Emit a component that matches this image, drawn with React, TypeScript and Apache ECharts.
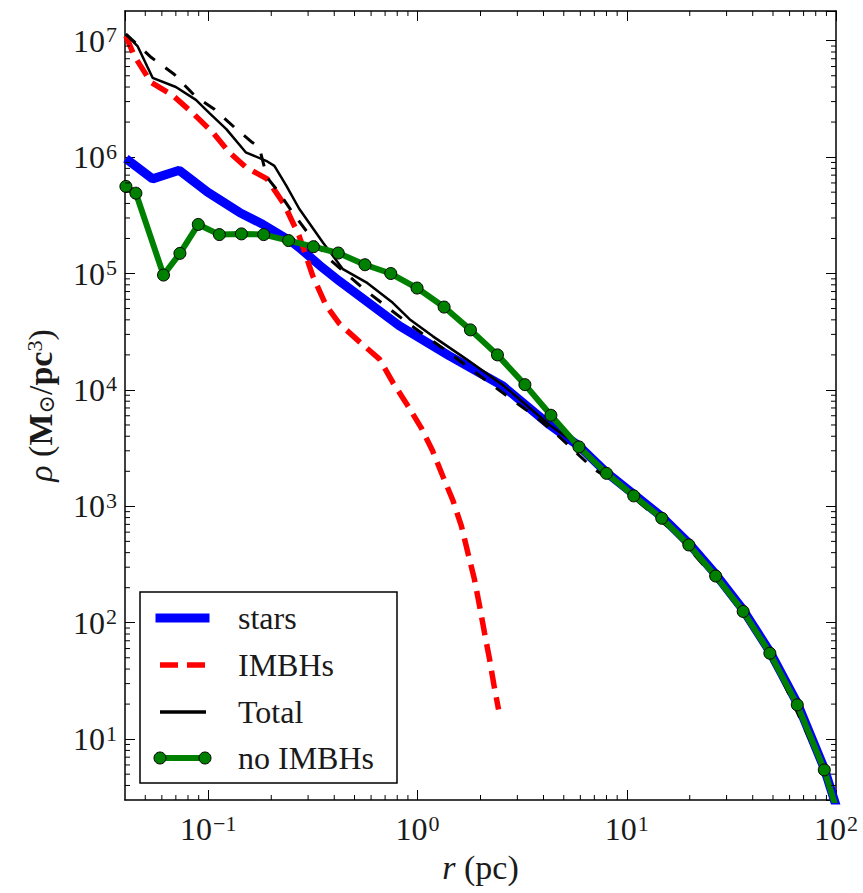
import React, { useEffect, useRef } from 'react';
import * as echarts from 'echarts';

const FONT = 'Liberation Serif, DejaVu Serif, serif';

// stars
const starsR = [0.0404, 0.0542, 0.0727, 0.0993, 0.141, 0.182, 0.253, 0.272, 0.34, 0.424, 0.82, 1.42, 2.56, 4.28, 5.91, 8.0, 10.8, 14.7, 19.8, 26.6, 36.0, 48.3, 65.3, 87.9, 118];
const starsRho = [9.7e5, 6.5e5, 7.7e5, 5.0e5, 3.35e5, 2.65e5, 1.85e5, 1.67e5, 1.18e5, 8.6e4, 3.55e4, 1.96e4, 1.08e4, 5.0e3, 3.3e3, 1.95e3, 1.27e3, 815, 482, 261, 129, 56.5, 20.4, 5.6, 1.05];

// IMBHs
const imbhR = [0.0404, 0.0443, 0.0532, 0.0675, 0.0841, 0.105, 0.126, 0.151, 0.191, 0.231, 0.272, 0.316, 0.366, 0.424, 0.527, 0.658, 0.762, 0.883, 1.04, 1.18, 1.32, 1.48, 1.62, 1.74, 1.87, 1.98, 2.09, 2.21, 2.33, 2.44];
const imbhRho = [1.1e7, 7.4e6, 4.4e6, 3.4e6, 2.4e6, 1.63e6, 1.1e6, 8.2e5, 6.5e5, 3.9e5, 2.1e5, 9.5e4, 5.3e4, 3.7e4, 2.6e4, 1.84e4, 1.16e4, 7.7e3, 4.75e3, 3.0e3, 1.82e3, 1.11e3, 680, 400, 237, 139, 82, 48.5, 27.7, 18];

// Total
const totalR = [0.0404, 0.0459, 0.0542, 0.070, 0.0873, 0.101, 0.122, 0.151, 0.189, 0.207, 0.236, 0.272, 0.353, 0.440, 0.569, 0.762, 0.916, 1.18, 1.71, 2.56, 4.28, 5.91, 8.0, 10.8, 14.7, 19.8, 26.6, 36.0, 48.3, 65.3, 87.9, 118];
const totalRho = [1.14e7, 9.0e6, 4.8e6, 4.0e6, 3.1e6, 2.4e6, 1.74e6, 1.1e6, 9.3e5, 8.4e5, 5.7e5, 3.6e5, 1.85e5, 1.09e5, 8.4e4, 5.6e4, 4.05e4, 2.9e4, 1.84e4, 1.1e4, 5.0e3, 3.3e3, 1.95e3, 1.27e3, 815, 482, 261, 129, 56.5, 20.4, 5.6, 1.05];

// second (dashed black) total profile
const dashR = [0.0404, 0.0533, 0.0687, 0.0867, 0.107, 0.133, 0.162, 0.175, 0.191, 0.219, 0.252, 0.315, 0.379, 0.557, 0.916, 1.45, 2.29, 3.70, 4.53, 6.90, 9.27, 17.3, 30.0, 43.3, 56.0, 88.0, 120];
const dashRho = [1.14e7, 7.2e6, 5.15e6, 3.33e6, 2.58e6, 1.81e6, 1.34e6, 1.22e6, 6.7e5, 4.9e5, 3.37e5, 1.97e5, 1.33e5, 7.3e4, 3.66e4, 2.02e4, 1.09e4, 5.8e3, 4.3e3, 2.12e3, 1.5e3, 575, 185, 74, 31, 5.3, 1.0];

// no IMBHs
const noImbhR = [0.0404, 0.0451, 0.0611, 0.0732, 0.0896, 0.113, 0.144, 0.184, 0.242, 0.318, 0.418, 0.561, 0.745, 0.995, 1.34, 1.79, 2.41, 3.26, 4.34, 5.91, 8.0, 10.8, 14.7, 19.8, 26.6, 36.0, 48.3, 65.3, 87.9, 118];
const noImbhRho = [5.6e5, 4.9e5, 9.7e4, 1.49e5, 2.64e5, 2.16e5, 2.19e5, 2.16e5, 1.92e5, 1.70e5, 1.50e5, 1.19e5, 1.0e5, 7.5e4, 5.15e4, 3.28e4, 2.0e4, 1.11e4, 6.06e3, 3.24e3, 1.92e3, 1.23e3, 790, 466, 252, 125, 54.7, 19.7, 5.44, 1.0];

const xRange = [0.04, 100];
const yRange = [3, 1.8e7];
const xMinorTicks = [0.05, 0.06, 0.07, 0.08, 0.09, 0.2, 0.3, 0.4, 0.5, 0.6, 0.7, 0.8, 0.9, 2, 3, 4, 5, 6, 7, 8, 9, 20, 30, 40, 50, 60, 70, 80, 90];
const yMinorTicks = [4, 5, 6, 7, 8, 9, 20, 30, 40, 50, 60, 70, 80, 90, 200, 300, 400, 500, 600, 700, 800, 900, 2e3, 3e3, 4e3, 5e3, 6e3, 7e3, 8e3, 9e3, 2e4, 3e4, 4e4, 5e4, 6e4, 7e4, 8e4, 9e4, 2e5, 3e5, 4e5, 5e5, 6e5, 7e5, 8e5, 9e5, 2e6, 3e6, 4e6, 5e6, 6e6, 7e6, 8e6, 9e6];

const legendItems = ['stars', 'IMBHs', 'Total', 'no IMBHs'];

const pair = (xs: number[], ys: number[]) => xs.map((x, i) => [x, ys[i]]);

function powLabel(v: number) {
  const e = Math.log10(v);
  const r = Math.round(e);
  if (Math.abs(e - r) > 1e-6) return '';
  const s = r < 0 ? '\u2212' + -r : String(r);
  return `{b|10}{s|${s}}`;
}

const TXT = '#1a1a1a';
const labelRich = {
  b: { fontSize: 32, fontFamily: FONT, color: TXT, lineHeight: 34 },
  s: { fontSize: 22, fontFamily: FONT, color: TXT, verticalAlign: 'top', padding: [0, 0, 0, 1], lineHeight: 22 },
};

export default function App() {
  const ref = useRef<HTMLDivElement>(null);
  useEffect(() => {
    const chart = echarts.init(ref.current!, null, { renderer: 'svg' });
    const tickData = [
      ...xMinorTicks.map((v) => [v, 1000, 0]),
      ...yMinorTicks.map((v) => [1, v, 1]),
    ];
    const blackTick = { stroke: '#000', lineWidth: 1 };
    const option: any = {
      animation: false,
      backgroundColor: '#fff',
      textStyle: { fontFamily: FONT },
      grid: { left: 125, right: 27, top: 11, bottom: 93, show: false, outerBoundsMode: 'none' },
      xAxis: [
        {
          type: 'log', logBase: 10, min: xRange[0], max: xRange[1],
          name: '{i|r}{n| (pc)}', nameLocation: 'middle', nameGap: 50,
          nameTextStyle: {
            fontFamily: FONT,
            rich: {
              i: { fontSize: 34, fontFamily: FONT, fontStyle: 'italic', color: TXT },
              n: { fontSize: 34, fontFamily: FONT, color: TXT },
            },
          },
          axisLine: { show: true, lineStyle: { color: '#000', width: 1.5 } },
          axisTick: { show: true, inside: true, length: 10, lineStyle: { color: '#000', width: 1 } },
          axisLabel: { show: true, margin: 12, formatter: powLabel, rich: labelRich, showMinLabel: false, fontFamily: FONT },
          splitLine: { show: false },
          minorTick: { show: false },
        },
        {
          type: 'log', logBase: 10, min: xRange[0], max: xRange[1], position: 'top',
          axisLine: { show: true, lineStyle: { color: '#000', width: 1.5 } },
          axisTick: { show: true, inside: true, length: 10, lineStyle: { color: '#000', width: 1 } },
          axisLabel: { show: false },
          splitLine: { show: false },
        },
      ],
      yAxis: [
        {
          type: 'log', logBase: 10, min: yRange[0], max: yRange[1],
          name: '{i|\u03c1}{n| (}{b|M}{sub|\u2299}{n|/}{b|pc}{sup|3}{n|)}',
          nameLocation: 'middle', nameGap: 68, nameRotate: 90,
          nameTextStyle: {
            fontFamily: FONT,
            rich: {
              i: { fontSize: 34, fontFamily: FONT, fontStyle: 'italic', color: TXT },
              n: { fontSize: 34, fontFamily: FONT, color: TXT },
              b: { fontSize: 34, fontFamily: FONT, fontWeight: 'bold', color: TXT },
              sub: { fontSize: 22, fontFamily: FONT, color: TXT, verticalAlign: 'bottom' },
              sup: { fontSize: 22, fontFamily: FONT, color: TXT, verticalAlign: 'top' },
            },
          },
          axisLine: { show: true, lineStyle: { color: '#000', width: 1.5 } },
          axisTick: { show: true, inside: true, length: 10, lineStyle: { color: '#000', width: 1 } },
          axisLabel: { show: true, margin: 8, formatter: powLabel, rich: labelRich, showMinLabel: false, showMaxLabel: false, fontFamily: FONT },
          splitLine: { show: false },
        },
        {
          type: 'log', logBase: 10, min: yRange[0], max: yRange[1], position: 'right',
          axisLine: { show: true, lineStyle: { color: '#000', width: 1.5 } },
          axisTick: { show: true, inside: true, length: 10, lineStyle: { color: '#000', width: 1 } },
          axisLabel: { show: false },
          splitLine: { show: false },
        },
      ],
      series: [
        {
          type: 'custom', name: 'minorTicks', silent: true, xAxisIndex: 0, yAxisIndex: 0,
          data: tickData, z: 10,
          renderItem: (params: any, api: any) => {
            const cs = params.coordSys;
            const kind = api.value(2);
            if (kind === 0) {
              const px = api.coord([api.value(0), 1000])[0];
              return {
                type: 'group', children: [
                  { type: 'line', shape: { x1: px, y1: cs.y + cs.height, x2: px, y2: cs.y + cs.height - 5 }, style: blackTick },
                  { type: 'line', shape: { x1: px, y1: cs.y, x2: px, y2: cs.y + 5 }, style: blackTick },
                ],
              };
            }
            const py = api.coord([1, api.value(1)])[1];
            return {
              type: 'group', children: [
                { type: 'line', shape: { x1: cs.x, y1: py, x2: cs.x + 5, y2: py }, style: blackTick },
                { type: 'line', shape: { x1: cs.x + cs.width, y1: py, x2: cs.x + cs.width - 5, y2: py }, style: blackTick },
              ],
            };
          },
        },
        {
          name: legendItems[0], type: 'line', data: pair(starsR, starsRho), showSymbol: false, symbol: 'none',
          lineStyle: { color: '#0000ff', width: 9 }, z: 2, clip: true,
        },
        {
          name: legendItems[1], type: 'line', data: pair(imbhR, imbhRho), showSymbol: false, symbol: 'none',
          lineStyle: { color: '#ff0000', width: 5.5, type: [18, 9] }, z: 3, clip: true,
        },
        {
          name: legendItems[2], type: 'line', data: pair(totalR, totalRho), showSymbol: false, symbol: 'none',
          lineStyle: { color: '#000', width: 2.5 }, z: 4, clip: true,
        },
        {
          name: 'dashedTotal', type: 'line', data: pair(dashR, dashRho), showSymbol: false, symbol: 'none',
          lineStyle: { color: '#000', width: 3, type: [13, 13] }, z: 5, clip: true,
        },
        {
          name: legendItems[3], type: 'line', data: pair(noImbhR, noImbhRho), symbol: 'circle', symbolSize: 12,
          lineStyle: { color: '#008000', width: 6 },
          itemStyle: { color: '#008000', borderColor: '#000', borderWidth: 1 }, z: 6, clip: true,
        },
      ],
      graphic: [
        { type: 'rect', z: 100, shape: { x: 140, y: 592, width: 257, height: 191 }, style: { fill: '#fff', stroke: '#000', lineWidth: 1.5 } },
        { type: 'line', z: 101, shape: { x1: 160, y1: 618, x2: 205, y2: 618 }, style: { stroke: '#0000ff', lineWidth: 9, lineCap: 'square' } },
        { type: 'line', z: 101, shape: { x1: 160, y1: 665, x2: 205, y2: 665 }, style: { stroke: '#ff0000', lineWidth: 5.5, lineDash: [18, 9] } },
        { type: 'line', z: 101, shape: { x1: 160, y1: 712, x2: 206, y2: 712 }, style: { stroke: '#000', lineWidth: 3.5 } },
        { type: 'line', z: 101, shape: { x1: 160, y1: 758, x2: 205, y2: 758 }, style: { stroke: '#008000', lineWidth: 6 } },
        { type: 'circle', z: 102, shape: { cx: 160, cy: 758, r: 6 }, style: { fill: '#008000', stroke: '#000', lineWidth: 1 } },
        { type: 'circle', z: 102, shape: { cx: 205, cy: 758, r: 6 }, style: { fill: '#008000', stroke: '#000', lineWidth: 1 } },
        ...legendItems.map((t, i) => ({
          type: 'text', z: 101, x: 238, y: [618, 665, 712, 758][i],
          style: { text: t, fontSize: 32, fontFamily: FONT, fill: TXT, verticalAlign: 'middle', align: 'left' },
        })),
      ],
    };
    chart.setOption(option);
    return () => chart.dispose();
  }, []);
  return <div ref={ref} style={{ position: 'absolute', left: 0, top: 0, width: 863, height: 893, background: '#fff' }} />;
}
